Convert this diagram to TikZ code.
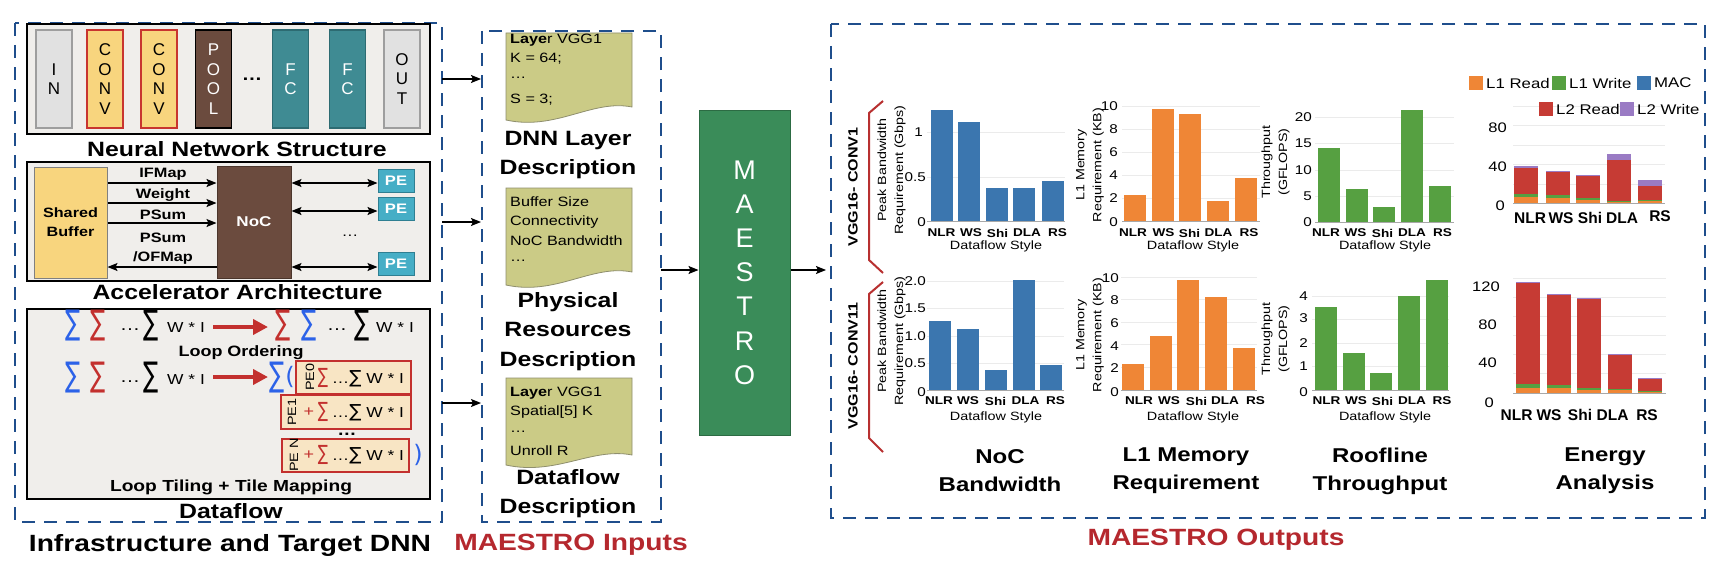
\documentclass[tikz,border=0pt]{standalone}
\usepackage{fontspec}
\setmainfont{Liberation Sans}[FakeStretch=1.2]
\newfontfamily\plainf{Liberation Sans}
\newfontfamily\symf{DejaVu Sans}
\usetikzlibrary{arrows.meta}
\newcommand\fs[2]{\fontsize{#1}{#2}\selectfont}
\definecolor{dblue}{HTML}{1F4E8C}
\definecolor{panelbg}{HTML}{F0EEEB}
\definecolor{lgray}{HTML}{E1E1E1}
\definecolor{lgrayb}{HTML}{9E9E9E}
\definecolor{convy}{HTML}{F8D57E}
\definecolor{convr}{HTML}{C8352F}
\definecolor{brownc}{HTML}{6B4B3E}
\definecolor{tealc}{HTML}{3F8B93}
\definecolor{tealb}{HTML}{2D6B72}
\definecolor{pec}{HTML}{46AEC6}
\definecolor{peb}{HTML}{2F7F92}
\definecolor{mgreen}{HTML}{3A8C59}
\definecolor{mgreenb}{HTML}{2C6B43}
\definecolor{docf}{HTML}{CBCB86}
\definecolor{docb}{HTML}{8F8F6E}
\definecolor{sblue}{HTML}{2C62E8}
\definecolor{sred}{HTML}{C3302E}
\definecolor{tilef}{HTML}{F8E5C4}
\definecolor{cblue}{HTML}{3B76AF}
\definecolor{corange}{HTML}{EF8636}
\definecolor{cgreen}{HTML}{56A041}
\definecolor{cred}{HTML}{C63B34}
\definecolor{cpurple}{HTML}{9A7BC4}
\definecolor{tred}{HTML}{B5282E}
\definecolor{gridc}{HTML}{EBEBEB}
\definecolor{axisc}{HTML}{A8A8A8}
\definecolor{bracketc}{HTML}{B83030}
\begin{document}
\begin{tikzpicture}[x=1pt,y=-1pt,
  dashbox/.style={draw=dblue,line width=2.8pt,dash pattern=on 13pt off 9pt},
  panel/.style={draw=black,line width=1.3pt,fill=panelbg},
  ttl/.style={font=\bfseries\fs{20.7}{29.5},align=center,inner sep=0pt},
  big/.style={font=\bfseries\fs{23.5}{28},inner sep=0pt},
  layer/.style={minimum width=36,minimum height=98,inner sep=0pt,line width=1.5pt,font=\plainf\fs{17}{19.5},align=center},
  albl/.style={font=\bfseries\fs{13.6}{19},align=center,inner sep=0pt},
  pe/.style={fill=pec,draw=peb,line width=1pt,minimum width=36,minimum height=23,inner sep=0pt,font=\bfseries\fs{13.8}{14},text=white},
  arr/.style={-{Stealth[length=10pt,width=8pt,inset=2pt]},line width=1.3pt},
  darr/.style={{Stealth[length=10pt,width=8pt,inset=2pt]}-{Stealth[length=10pt,width=8pt,inset=2pt]},line width=1.3pt},
  redarr/.style={-{Triangle[length=15pt,width=15pt]},line width=4pt,draw=sred},
  sig/.style={font=\symf\fs{34}{34},inner sep=0pt,xscale=0.66},
  wi/.style={font=\fs{14.5}{15},inner sep=0pt},
  tile/.style={fill=tilef,draw=sred,line width=1.8pt,inner sep=0pt},
  doctxt/.style={font=\fs{13.5}{20},anchor=west,inner sep=0pt},
  tick/.style={font=\fs{12.7}{14},anchor=east,inner sep=0pt},
  etick/.style={font=\fs{13.8}{14},anchor=east,inner sep=0pt},
  cat/.style={font=\bfseries\fs{11.3}{14},inner sep=0pt},
  ecat/.style={font=\plainf\bfseries\fs{15.5}{16},inner sep=0pt},
  dfs/.style={font=\fs{12}{14},inner sep=0pt},
  ylab/.style={font=\fs{11.9}{17},align=center,rotate=90,inner sep=0pt},
  leg/.style={font=\fs{14}{14},anchor=west,inner sep=0pt},
  grid/.style={draw=gridc,line width=0.8pt},
  axis/.style={draw=axisc,line width=1pt},
  doc/.style={draw=docb,fill=docf,line width=0.8pt}]
\fill[white] (0,0) rectangle (1720,578);
\useasboundingbox (0,0) rectangle (1720,578);

% ================= LEFT PANEL =================
\draw[dashbox] (15,23) rectangle (442,522);
\draw[panel] (27,24) rectangle (430,134);
\node[layer,fill=lgray,draw=lgrayb] (lin) at (54,79) {I\\N};
\node[layer,fill=convy,draw=convr] (lc1) at (105,79) {C\\O\\N\\V};
\node[layer,fill=convy,draw=convr] (lc2) at (159,79) {C\\O\\N\\V};
\node[layer,fill=brownc,draw=black,text=white] (lpool) at (213.5,79) {P\\O\\O\\L};
\node[font=\bfseries\fs{17}{17},inner sep=0pt] (ldots) at (252,79) {…};
\node[layer,fill=tealc,draw=tealb,text=white] (lf1) at (290.5,79) {F\\C};
\node[layer,fill=tealc,draw=tealb,text=white] (lf2) at (347.5,79) {F\\C};
\node[layer,fill=lgray,draw=lgrayb] (lout) at (402,79) {O\\U\\T};
\node[ttl] (tnn) at (237,149) {Neural Network Structure};

\draw[panel] (27,162) rectangle (430,281);
\node[fill=convy,draw=gray,line width=1pt,minimum width=73,minimum height=111,inner sep=0pt,font=\bfseries\fs{13.5}{19},align=center] (sb) at (70.5,222.5) {Shared\\Buffer};
\node[fill=brownc,draw=brownc!70!black,line width=1pt,minimum width=74,minimum height=112,inner sep=0pt,font=\bfseries\fs{14.2}{14},text=white] (noc) at (254,222) {NoC};
\node[pe] (pe1) at (396,180.5) {PE};
\node[pe] (pe2) at (396,208.5) {PE};
\node[pe] (pe3) at (396,264) {PE};
\path (0,183) coordinate (r1) (0,203) coordinate (r2) (0,223) coordinate (r3) (0,267) coordinate (r4) (0,211) coordinate (r5);
\draw[arr] (sb.east |- r1) -- (noc.west |- r1);
\draw[arr] (sb.east |- r2) -- (noc.west |- r2);
\draw[arr] (sb.east |- r3) -- (noc.west |- r3);
\draw[arr] (noc.west |- r4) -- (sb.east |- r4);
\draw[darr] (noc.east |- r1) -- (pe1.west |- r1);
\draw[darr] (noc.east |- r5) -- (pe2.west |- r5);
\draw[darr] (noc.east |- r4) -- (pe3.west |- r4);
\node[albl] (lifm) at (163,174) {IFMap};
\node[albl] (lwt) at (163,195) {Weight};
\node[albl] (lps) at (163,215) {PSum};
\node[albl] (lpo) at (163,248.5) {PSum\\/OFMap};
\node[font=\fs{14}{14},inner sep=0pt] (pdots) at (350,236) {…};
\node[ttl] (tacc) at (237.5,292) {Accelerator Architecture};

\draw[panel] (27,309) rectangle (430,499);
% row 1
\node[sig,text=sblue] (a1) at (73,326) {∑};
\node[sig,text=sred] (a2) at (98,326) {∑};
\node[font=\fs{17}{17},inner sep=0pt] (a3) at (130,330) {…};
\node[sig] (a4) at (151,326) {∑};
\node[wi] (a5) at (186,328) {W * I};
\coordinate (ro1s) at (213,327); \coordinate (ro1e) at (268,327);
\draw[redarr] (ro1s) -- (ro1e);
\node[sig,text=sred] (b1) at (283,326) {∑};
\node[sig,text=sblue] (b2) at (309,326) {∑};
\node[font=\fs{17}{17},inner sep=0pt] (b3) at (337,330) {…};
\node[sig] (b4) at (362,326) {∑};
\node[wi] (b5) at (395,328) {W * I};
\node[font=\bfseries\fs{15}{15},inner sep=0pt] (tlo) at (241,353) {Loop Ordering};
% row 2
\node[sig,text=sblue] (c1) at (73,378) {∑};
\node[sig,text=sred] (c2) at (98,378) {∑};
\node[font=\fs{17}{17},inner sep=0pt] (c3) at (130,382) {…};
\node[sig] (c4) at (151,378) {∑};
\node[wi] (c5) at (186,380) {W * I};
\coordinate (ro2s) at (213,377); \coordinate (ro2e) at (268,377);
\draw[redarr] (ro2s) -- (ro2e);
\node[sig,text=sblue] (d1) at (277,378) {∑};
\node[font=\symf\fs{24}{24},text=sblue,inner sep=0pt] (d2) at (290,377) {(};
\node[tile,minimum width=115,minimum height=33] (pe0t) at (353.5,377.5) {};
\node[tile,minimum width=130,minimum height=34] (pe1t) at (346,412) {};
\node[tile,minimum width=127,minimum height=33] (pent) at (345.5,455.5) {};
\node[font=\fs{12}{12},rotate=90,inner sep=0pt] (pe0l) at (310,377) {PE0};
\node[font=\fs{12}{12},rotate=90,inner sep=0pt] (pe1l) at (292,412) {PE1};
\node[font=\fs{12}{12},rotate=90,inner sep=0pt] (penl) at (294,455) {PE N};
\node[font=\symf\fs{21}{21},text=sred,inner sep=0pt,xscale=0.72] (e1) at (323,378) {∑};
\node[font=\fs{14.5}{15},inner sep=0pt] (e2) at (368,379) {…{\symf\fs{18}{18}∑} W * I};
\node[font=\fs{15}{15},text=sred,inner sep=0pt] (f0) at (309,412) {+};
\node[font=\symf\fs{21}{21},text=sred,inner sep=0pt,xscale=0.72] (f1) at (323,412) {∑};
\node[font=\fs{14.5}{15},inner sep=0pt] (f2) at (368,413) {…{\symf\fs{18}{18}∑} W * I};
\node[font=\bfseries\fs{16}{16},inner sep=0pt] (fdots) at (347,434) {…};
\node[font=\fs{15}{15},text=sred,inner sep=0pt] (g0) at (309,455) {+};
\node[font=\symf\fs{21}{21},text=sred,inner sep=0pt,xscale=0.72] (g1) at (323,455) {∑};
\node[font=\fs{14.5}{15},inner sep=0pt] (g2) at (368,456) {…{\symf\fs{18}{18}∑} W * I};
\node[font=\symf\fs{24}{24},text=sblue,inner sep=0pt] (g3) at (418,455) {)};
\node[font=\bfseries\fs{16}{16},inner sep=0pt] (tlt) at (231,487) {Loop Tiling + Tile Mapping};
\node[ttl] (tdf) at (231,511) {Dataflow};
\node[big] (tinf) at (230,545) {Infrastructure and Target DNN};

% ================= INPUTS =================
\draw[dashbox] (482,31) rectangle (661,522);
\draw[doc] (506,33) -- (632,33) -- (632,107) .. controls (592,99) and (556,131) .. (506,120) -- cycle;
\draw[doc] (506,188) -- (632,188) -- (632,272) .. controls (592,264) and (556,296) .. (506,285) -- cycle;
\draw[doc] (506,378) -- (632,378) -- (632,455) .. controls (592,447) and (556,476) .. (506,465) -- cycle;
\node[doctxt] (d1a) at (510,40) {\textbf{Laye}r VGG1};
\node[doctxt] (d1b) at (510,59) {K = 64;};
\node[doctxt] (d1c) at (510,78) {…};
\node[doctxt] (d1d) at (510,100) {S = 3;};
\node[ttl] (tdnn) at (568,155) {DNN Layer\\Description};
\node[doctxt] (d2a) at (510,202) {Buffer Size};
\node[doctxt] (d2b) at (510,222) {Connectivity};
\node[doctxt] (d2c) at (510,241) {NoC Bandwidth};
\node[doctxt] (d2d) at (510,261) {…};
\node[ttl] (tphy) at (568,331.5) {Physical\\Resources\\Description};
\node[doctxt] (d3a) at (510,393) {\textbf{Laye}r VGG1};
\node[doctxt] (d3b) at (510,412) {Spatial[5] K};
\node[doctxt] (d3c) at (510,432) {…};
\node[doctxt] (d3d) at (510,451) {Unroll R};
\node[ttl] (tdfd) at (568,493.5) {Dataflow\\Description};
\node[big,text=tred] (tin) at (571,545) {MAESTRO Inputs};
\coordinate (lp1) at (442,79); \coordinate (ip1) at (481,79);
\coordinate (lp2) at (442,222); \coordinate (ip2) at (481,222);
\coordinate (lp3) at (442,403); \coordinate (ip3) at (481,403);
\draw[arr] (lp1) -- (ip1);
\draw[arr] (lp2) -- (ip2);
\draw[arr] (lp3) -- (ip3);

% ================= MAESTRO =================
\node[fill=mgreen,draw=mgreenb,line width=1pt,minimum width=91,minimum height=325,inner sep=0pt,font=\plainf\fs{27}{34.2},text=white,align=center] (mae) at (744.5,272.5) {M\\A\\E\\S\\T\\R\\O};
\coordinate (ipo) at (661,270); \coordinate (opi) at (826,270);
\draw[arr] (ipo) -- (ipo -| mae.west);
\draw[arr] (mae.east |- opi) -- (opi);

% ================= OUTPUTS =================
\draw[dashbox] (831,24) rectangle (1705,518);
\draw[bracketc,line width=2pt] (883,101) -- (869,113) -- (869,260) -- (883,273);
\draw[bracketc,line width=2pt] (883,282) -- (869,294) -- (869,438) -- (883,452);
\node[font=\bfseries\fs{13.4}{14},rotate=90,inner sep=0pt] (vg1) at (853,187) {VGG16- CONV1};
\node[font=\bfseries\fs{13.4}{14},rotate=90,inner sep=0pt] (vg2) at (853,366) {VGG16- CONV11};

% ---- chart 1: NoC CONV1
\foreach \g in {177,132} \draw[grid] (927,\g) -- (1065,\g);
\foreach \x/\t in {931/110,958/122,986/188,1013/188,1042/181} \fill[cblue] (\x,221) rectangle (\x+22,\t);
\draw[axis] (927,221) -- (1065,221);
\node[tick] (k1a) at (926,222) {0};
\node[tick] (k1b) at (926,177) {0.5};
\node[tick] (k1c) at (923,132) {1};
\node[ylab] (y1) at (891.5,170) {Peak Bandwidth\\Requirement (Gbps)};
\foreach \t/\x [count=\i] in {NLR/941.5,WS/971,Shi/997.5,DLA/1027,RS/1057.5} \node[cat] (q1\i) at (\x,233) {\t};
\node[dfs] (s1) at (996,246) {Dataflow Style};

% ---- chart 2: L1 CONV1
\foreach \g in {198,175,152,129,106} \draw[grid] (1122,\g) -- (1260,\g);
\foreach \x/\t in {1124/195,1152/109,1179/114,1207/201,1235/178} \fill[corange] (\x,221) rectangle (\x+22,\t);
\draw[axis] (1122,221) -- (1260,221);
\foreach \v/\y [count=\i] in {0/222,2/198,4/175,6/152,8/129,10/106} \node[tick] (k2\i) at (1118,\y) {\v};
\node[ylab] (y2) at (1090,165) {L1 Memory\\Requirement (KB)};
\foreach \t/\x [count=\i] in {NLR/1133,WS/1163.5,Shi/1189.5,DLA/1218.5,RS/1249} \node[cat] (q2\i) at (\x,233) {\t};
\node[dfs] (s2) at (1193,246) {Dataflow Style};

% ---- chart 3: Throughput CONV1
\foreach \g in {196,170,143,117} \draw[grid] (1315,\g) -- (1454,\g);
\foreach \x/\t in {1318/148,1346/189,1373/207,1401/110,1429/186} \fill[cgreen] (\x,222) rectangle (\x+22,\t);
\draw[axis] (1315,222) -- (1454,222);
\foreach \v/\y [count=\i] in {0/222,5/196,10/170,15/143,20/117} \node[tick] (k3\i) at (1312,\y) {\v};
\node[ylab] (y3) at (1275.5,162) {Throughput\\(GFLOPS)};
\foreach \t/\x [count=\i] in {NLR/1326,WS/1355.5,Shi/1382.5,DLA/1412,RS/1442.5} \node[cat] (q3\i) at (\x,233) {\t};
\node[dfs] (s3) at (1385,246) {Dataflow Style};

% ---- chart 4: Energy CONV1
\foreach \g in {184,164.5,145,125.5,106} \draw[grid] (1513,\g) -- (1665,\g);
\foreach \x/\a/\b/\c/\d in {1514/6.7/3.3/26/1.7,1546/6/3/22.7/1,1576/4/1.7/22.3/0.8,1607/1.7/0.5/41/6.3,1638/3.3/0.7/14/6} {
  \fill[corange] (\x,203.5) rectangle (\x+24,203.5-\a);
  \fill[cgreen] (\x,203.5-\a) rectangle (\x+24,203.5-\a-\b);
  \fill[cred] (\x,203.5-\a-\b) rectangle (\x+24,203.5-\a-\b-\c);
  \fill[cpurple] (\x,203.5-\a-\b-\c) rectangle (\x+24,203.5-\a-\b-\c-\d);
}
\draw[axis] (1513,203.5) -- (1665,203.5);
\node[etick] (k4a) at (1505,206) {0};
\node[etick] (k4b) at (1507,167) {40};
\node[etick] (k4c) at (1507,128) {80};
\foreach \t/\x/\y [count=\i] in {NLR/1530/218,WS/1561/218,Shi/1590/218,DLA/1622/218,RS/1660/216} \node[ecat] (q4\i) at (\x,\y) {\t};
\fill[corange] (1469,76) rectangle (1483,90);
\node[leg] (lg1) at (1486,83) {L1 Read};
\fill[cgreen] (1552,76) rectangle (1566,90);
\node[leg] (lg2) at (1569,83) {L1 Write};
\fill[cblue] (1637,76) rectangle (1651,90);
\node[leg] (lg3) at (1654,83) {MAC};
\fill[cred] (1539,102) rectangle (1553,116);
\node[leg] (lg4) at (1556,109) {L2 Read};
\fill[cpurple] (1620,102) rectangle (1634,116);
\node[leg] (lg5) at (1637,109) {L2 Write};

% ---- chart 5: NoC CONV11
\foreach \g in {363,336,308,281} \draw[grid] (927,\g) -- (1064,\g);
\foreach \x/\t in {929/321,957/329,985/370,1013/280,1040/365} \fill[cblue] (\x,390) rectangle (\x+22,\t);
\draw[axis] (927,390) -- (1064,390);
\foreach \v/\y [count=\i] in {0/392,0.5/363,1.0/336,1.5/308,2.0/281} \node[tick] (k5\i) at (926,\y) {\v};
\node[ylab] (y5) at (891.5,341) {Peak Bandwidth\\Requirement (Gbps)};
\foreach \t/\x [count=\i] in {NLR/939,WS/968,Shi/995.5,DLA/1025.5,RS/1055.5} \node[cat] (q5\i) at (\x,401) {\t};
\node[dfs] (s5) at (996,417) {Dataflow Style};

% ---- chart 6: L1 CONV11
\foreach \g in {367.4,344.8,322.2,299.6,277} \draw[grid] (1121,\g) -- (1257,\g);
\foreach \x/\t in {1122/364,1150/336,1177/280,1205/297,1233/348} \fill[corange] (\x,390) rectangle (\x+22,\t);
\draw[axis] (1121,390) -- (1257,390);
\foreach \v/\y [count=\i] in {0/392,2/368,4/346,6/323,8/300,10/278} \node[tick] (k6\i) at (1119,\y) {\v};
\node[ylab] (y6) at (1090,335) {L1 Memory\\Requirement (KB)};
\foreach \t/\x [count=\i] in {NLR/1139,WS/1169,Shi/1196.5,DLA/1225,RS/1255.5} \node[cat] (q6\i) at (\x,401) {\t};
\node[dfs] (s6) at (1193,417) {Dataflow Style};

% ---- chart 7: Throughput CONV11
\foreach \g in {366.6,343.2,319.8,296.4} \draw[grid] (1312,\g) -- (1449,\g);
\foreach \x/\t in {1315/307,1343/353,1370/373,1398/296,1426/280} \fill[cgreen] (\x,390) rectangle (\x+22,\t);
\draw[axis] (1312,390) -- (1449,390);
\foreach \v/\y [count=\i] in {0/392,1/366,2/343,3/318,4/296} \node[tick] (k7\i) at (1308,\y) {\v};
\node[ylab] (y7) at (1275.5,339) {Throughput\\(GFLOPS)};
\foreach \t/\x [count=\i] in {NLR/1326.5,WS/1356,Shi/1382.5,DLA/1412,RS/1442} \node[cat] (q7\i) at (\x,401) {\t};
\node[dfs] (s7) at (1385,417) {Dataflow Style};

% ---- chart 8: Energy CONV11
\foreach \g in {373.8,354.7,335.5,316.3,297.2,278} \draw[grid] (1513,\g) -- (1666,\g);
\foreach \x/\a/\b/\c/\d in {1516/5.3/3.3/101.7/0.8,1547/5/3/90.3/0.6,1577/2.7/2.3/90/0.5,1608/3.7/0.3/35/0.3,1638/1.7/0.7/12/0.6} {
  \fill[corange] (\x,393) rectangle (\x+24,393-\a);
  \fill[cgreen] (\x,393-\a) rectangle (\x+24,393-\a-\b);
  \fill[cred] (\x,393-\a-\b) rectangle (\x+24,393-\a-\b-\c);
  \fill[cpurple] (\x,393-\a-\b-\c) rectangle (\x+24,393-\a-\b-\c-\d);
}
\draw[axis] (1513,393) -- (1666,393);
\node[etick] (k8a) at (1494,403) {0};
\node[etick] (k8b) at (1497,363) {40};
\node[etick] (k8c) at (1497,325) {80};
\node[etick] (k8d) at (1500,287) {120};
\foreach \t/\x [count=\i] in {NLR/1516.5,WS/1549,Shi/1580,DLA/1612.5,RS/1647} \node[ecat] (q8\i) at (\x,415) {\t};

% ---- bottom titles
\node[ttl,font=\bfseries\fs{20}{28}] (b1t) at (1000,471) {NoC\\Bandwidth};
\node[ttl,font=\bfseries\fs{20}{28}] (b2t) at (1186,471) {L1 Memory\\Requirement};
\node[ttl,font=\bfseries\fs{20}{28}] (b3t) at (1380,471) {Roofline\\Throughput};
\node[ttl,font=\bfseries\fs{20}{28}] (b4t) at (1605,471) {Energy\\Analysis};
\node[big,text=tred] (tout) at (1216,540) {MAESTRO Outputs};
\end{tikzpicture}
\end{document}
